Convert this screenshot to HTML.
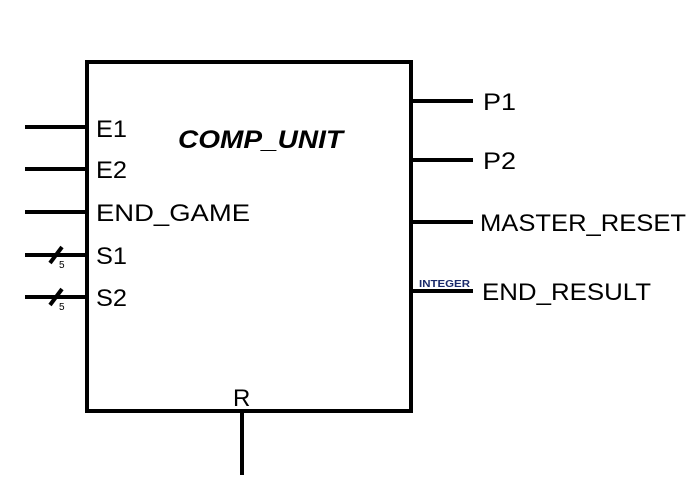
<!DOCTYPE html>
<html><head><style>body{margin:0;background:#fff}</style></head><body>
<svg width="697" height="488" xmlns="http://www.w3.org/2000/svg" font-family="Liberation Sans, sans-serif">
<rect x="87" y="62" width="324" height="349" fill="none" stroke="#000" stroke-width="4"/>
<g stroke="#000" stroke-width="4">
<line x1="25" y1="127" x2="87" y2="127"/>
<line x1="25" y1="169" x2="87" y2="169"/>
<line x1="25" y1="212" x2="87" y2="212"/>
<line x1="25" y1="255" x2="87" y2="255"/>
<line x1="25" y1="297" x2="87" y2="297"/>
<line x1="50" y1="263" x2="62" y2="247"/>
<line x1="50" y1="305" x2="62" y2="289"/>
<line x1="411" y1="101" x2="473" y2="101"/>
<line x1="411" y1="160" x2="473" y2="160"/>
<line x1="411" y1="222" x2="473" y2="222"/>
<line x1="411" y1="291" x2="473" y2="291"/>
<line x1="242" y1="411" x2="242" y2="475"/>
</g>
<g font-size="24" fill="#000">
<text x="96" y="137" textLength="31" lengthAdjust="spacingAndGlyphs">E1</text>
<text x="96" y="178" textLength="31" lengthAdjust="spacingAndGlyphs">E2</text>
<text x="96" y="221" textLength="154" lengthAdjust="spacingAndGlyphs">END_GAME</text>
<text x="96" y="264" textLength="31" lengthAdjust="spacingAndGlyphs">S1</text>
<text x="96" y="306" textLength="31" lengthAdjust="spacingAndGlyphs">S2</text>
<text x="483" y="110" textLength="33" lengthAdjust="spacingAndGlyphs">P1</text>
<text x="483" y="169" textLength="33" lengthAdjust="spacingAndGlyphs">P2</text>
<text x="480" y="231" textLength="206" lengthAdjust="spacingAndGlyphs">MASTER_RESET</text>
<text x="482" y="300" textLength="169" lengthAdjust="spacingAndGlyphs">END_RESULT</text>
<text x="233" y="406">R</text>
</g>
<text x="178" y="148" font-size="25" font-weight="bold" font-style="italic" textLength="165" lengthAdjust="spacingAndGlyphs">COMP_UNIT</text>
<text x="59" y="268" font-size="10">5</text>
<text x="59" y="310" font-size="10">5</text>
<text x="419" y="287" font-size="10" font-weight="bold" fill="#1a2a6a" textLength="51" lengthAdjust="spacingAndGlyphs">INTEGER</text>
</svg>
</body></html>
